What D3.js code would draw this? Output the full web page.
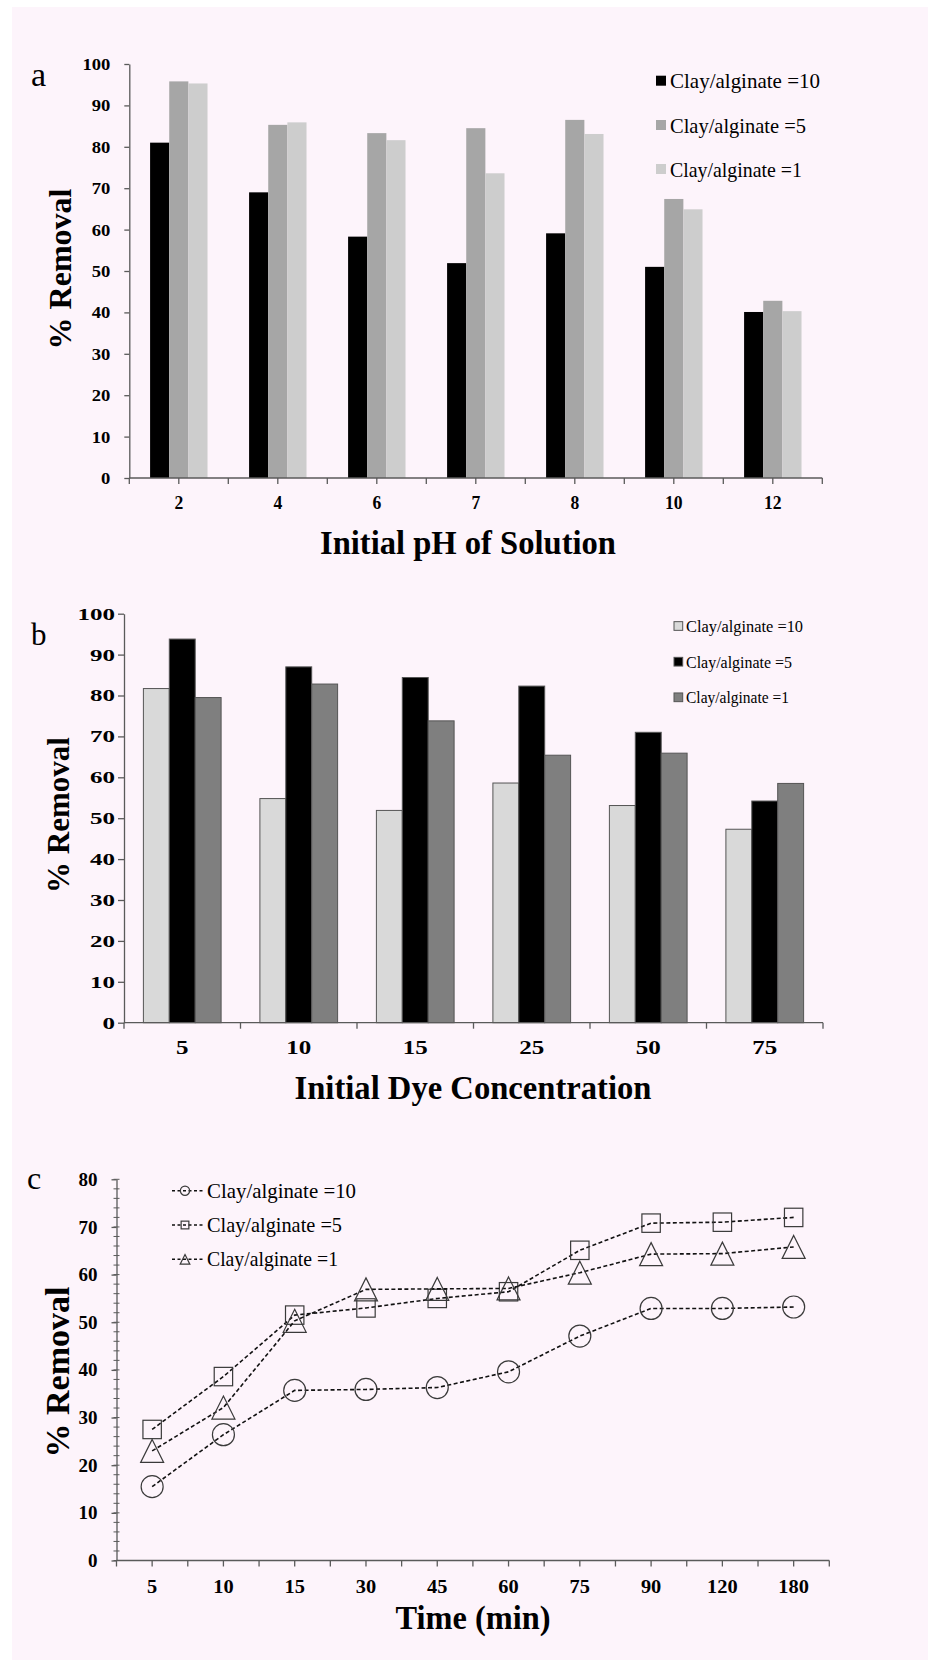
<!DOCTYPE html>
<html>
<head>
<meta charset="utf-8">
<script src="https://cdn.jsdelivr.net/npm/d3@7"></script>
<style>
  html, body { margin: 0; padding: 0; background: #ffffff; }
  svg { display: block; }
  text { font-family: "Liberation Serif", "Times New Roman", serif; fill: #000; }
</style>
</head>
<body>
<svg id="fig" width="928" height="1660" font-family="Liberation Serif, Times New Roman, serif"></svg>
<script>
// ---- data -------------------------------------------------------------
const seriesNames = ["Clay/alginate =10", "Clay/alginate =5", "Clay/alginate =1"];

// (a) effect of initial pH
const phCategories = ["2", "4", "6", "7", "8", "10", "12"];
const phRatio10 = [81.0, 69.0, 58.3, 51.9, 59.1, 51.0, 40.1];
const phRatio5  = [95.8, 85.3, 83.3, 84.5, 86.5, 67.4, 42.8];
const phRatio1  = [95.3, 85.9, 81.6, 73.6, 83.1, 64.9, 40.3];

// (b) effect of initial dye concentration
const dyeCategories = ["5", "10", "15", "25", "50", "75"];
const dyeRatio10 = [81.7, 54.8, 51.9, 58.6, 53.1, 47.3];
const dyeRatio5  = [93.8, 87.0, 84.4, 82.3, 71.0, 54.2];
const dyeRatio1  = [79.5, 82.8, 73.8, 65.4, 65.9, 58.5];

// (c) effect of contact time
const timeCategories = ["5", "10", "15", "30", "45", "60", "75", "90", "120", "180"];
const timeRatio10 = [15.5, 26.4, 35.7, 35.9, 36.3, 39.6, 47.1, 52.9, 52.9, 53.2];
const timeRatio5  = [27.5, 38.6, 51.5, 53.0, 55.0, 56.4, 65.1, 70.8, 71.0, 72.0];
const timeRatio1  = [23.0, 32.1, 50.3, 56.9, 57.0, 57.1, 60.4, 64.3, 64.4, 65.8];

const removalTicks100 = [0, 10, 20, 30, 40, 50, 60, 70, 80, 90, 100];
const removalTicks80  = [0, 10, 20, 30, 40, 50, 60, 70, 80];
const removalMinor80  = d3.range(0, 81, 2);

// ---- figure -----------------------------------------------------------
const svg = d3.select("#fig");
const AXIS = "#5a5a5a";
const SERIF = "Liberation Serif, Times New Roman, serif";

svg.append("rect").attr("x", 12).attr("y", 7)
  .attr("width", 916).attr("height", 1653).attr("fill", "#fdf4fb");

function styleAxis(g) {
  g.selectAll("path, line").attr("stroke", AXIS).attr("stroke-width", 1.3);
}

// set a fixed advance per character on digit labels
function spread(sel, perChar) {
  sel.attr("lengthAdjust", "spacingAndGlyphs")
    .attr("textLength", function () { return this.textContent.length * perChar; });
}

function panelLetter(letter, x, y, size) {
  svg.append("text").attr("x", x).attr("y", y).attr("font-family", SERIF)
    .attr("font-size", size).text(letter);
}

function yTitle(cx, cy, size) {
  svg.append("text")
    .attr("transform", `translate(${cx},${cy}) rotate(-90)`)
    .attr("text-anchor", "middle").attr("dominant-baseline", "central")
    .attr("font-family", SERIF)
    .attr("font-size", size).attr("font-weight", "bold")
    .text("% Removal");
}

function xTitle(label, cx, baseline, width) {
  svg.append("text").attr("x", cx).attr("y", baseline)
    .attr("text-anchor", "middle").attr("font-size", 33)
    .attr("font-family", SERIF).attr("font-weight", "bold")
    .attr("textLength", width).attr("lengthAdjust", "spacingAndGlyphs")
    .text(label);
}

function barPanel(o) {
  const x = d3.scaleBand().domain(o.categories).range([o.x0, o.x1])
    .paddingInner(o.pad).paddingOuter(o.pad / 2);
  const xs = d3.scaleBand().domain([0, 1, 2]).range([0, x.bandwidth()]);
  const y = d3.scaleLinear().domain([0, 100]).range([o.yBottom, o.yTop]);

  const rows = o.categories.map((c, i) => ({ c, v: o.series.map(s => s[i]) }));
  const g = svg.append("g");
  g.selectAll("g.grp").data(rows).join("g")
    .attr("transform", d => `translate(${x(d.c)},0)`)
    .selectAll("rect").data(d => d.v.map((v, k) => ({ v, k }))).join("rect")
    .attr("x", d => xs(d.k)).attr("width", xs.bandwidth())
    .attr("y", d => y(d.v)).attr("height", d => y(0) - y(d.v))
    .attr("fill", d => o.colors[d.k])
    .attr("stroke", o.outline || "none").attr("stroke-width", o.outline ? 1 : 0);

  // y axis
  const ya = svg.append("g").attr("transform", `translate(${o.x0},0)`)
    .call(d3.axisLeft(y).tickValues(removalTicks100).tickSize(o.yTick)
      .tickPadding(o.yPad).tickSizeOuter(0));
  styleAxis(ya);
  ya.selectAll("text").attr("font-size", o.yFont).attr("font-weight", "bold")
    .attr("font-family", SERIF).attr("fill", "#000").call(spread, o.yDigit);

  // x axis: line + tick marks
  const xa = svg.append("g").attr("transform", `translate(0,${o.yBottom})`);
  xa.append("line").attr("x1", o.x0).attr("x2", o.x1);
  const bounds = d3.range(o.categories.length + 1).map(i => o.x0 + i * x.step());
  const tickXs = o.centerTicks
    ? bounds.concat(o.categories.map(c => x(c) + x.bandwidth() / 2))
    : bounds;
  xa.selectAll("line.t").data(tickXs).join("line").attr("class", "t")
    .attr("x1", d => d).attr("x2", d => d).attr("y1", 0).attr("y2", 6);
  styleAxis(xa);
  xa.selectAll("text").data(o.categories).join("text")
    .attr("x", d => x(d) + x.bandwidth() / 2).attr("y", 25)
    .attr("text-anchor", "middle").attr("dominant-baseline", "central")
    .attr("font-family", SERIF)
    .attr("font-size", o.xFont).attr("font-weight", "bold").text(d => d)
    .call(spread, o.xDigit);

  // legend
  const lg = svg.append("g");
  seriesNames.forEach((name, k) => {
    const cy = o.legend.y[k];
    lg.append("rect").attr("x", o.legend.x).attr("y", cy - o.legend.box / 2)
      .attr("width", o.legend.box).attr("height", o.legend.box)
      .attr("fill", o.colors[k]).attr("stroke", o.outline || "none")
      .attr("stroke-width", o.outline ? 1 : 0);
    lg.append("text").attr("x", o.legend.tx).attr("y", cy)
      .attr("dominant-baseline", "central").attr("font-family", SERIF)
      .attr("font-size", o.legend.font)
      .attr("textLength", o.legend.widths[k]).attr("lengthAdjust", "spacingAndGlyphs")
      .text(name);
  });
}

// ---- (a) ---------------------------------------------------------------
barPanel({
  categories: phCategories,
  series: [phRatio10, phRatio5, phRatio1],
  colors: ["#000000", "#a6a6a6", "#cdcdcd"],
  x0: 129.3, x1: 822.3, yTop: 64, yBottom: 478, pad: 0.42,
  yTick: 5, yPad: 14, yFont: 17, yDigit: 9.3, centerTicks: true,
  xFont: 18, xDigit: 8.8,
  legend: { x: 656, box: 10, tx: 670, font: 22, y: [80.7, 125, 169],
            widths: [150, 136, 132] }
});
panelLetter("a", 31, 86, 34);
yTitle(59.5, 269, 32);
xTitle("Initial pH of Solution", 468, 554, 296);

// ---- (b) ---------------------------------------------------------------
barPanel({
  categories: dyeCategories,
  series: [dyeRatio10, dyeRatio5, dyeRatio1],
  colors: ["#d9d9d9", "#000000", "#7f7f7f"],
  outline: "#555555",
  x0: 124, x1: 823, yTop: 613.7, yBottom: 1022.7, pad: 0.333,
  yTick: 6, yPad: 3, yFont: 17, yDigit: 12.5, centerTicks: false,
  xFont: 19, xDigit: 12.5,
  legend: { x: 674, box: 8.7, tx: 686, font: 17.5, y: [626, 661.7, 697.3],
            widths: [117, 106, 103] }
});
panelLetter("b", 31, 645, 31);
yTitle(58, 815, 31);
xTitle("Initial Dye Concentration", 473, 1099, 357);

// ---- (c) ---------------------------------------------------------------
(function () {
  const x0 = 116.5, x1 = 829.3, yB = 1560.5, yT = 1179.3;
  const x = d3.scalePoint().domain(timeCategories).range([x0, x1]).padding(0.5);
  const y = d3.scaleLinear().domain([0, 80]).range([yB, yT]);

  // y axis with minor ticks
  const ya = svg.append("g").attr("transform", `translate(${x0},0)`)
    .call(d3.axisLeft(y).tickValues(removalTicks80).tickSize(5)
      .tickPadding(14).tickSizeOuter(0));
  ya.selectAll("line.minor").data(removalMinor80).join("line").attr("class", "minor")
    .attr("x1", -3).attr("x2", 3).attr("y1", d => y(d)).attr("y2", d => y(d));
  styleAxis(ya);
  ya.selectAll("line.minor").attr("stroke-width", 1);
  ya.selectAll("text").attr("font-size", 19).attr("font-weight", "bold")
    .attr("font-family", SERIF).attr("fill", "#000");

  // x axis
  const xa = svg.append("g").attr("transform", `translate(0,${yB})`);
  xa.append("line").attr("x1", x0).attr("x2", x1);
  const bounds = d3.range(timeCategories.length + 1).map(i => x0 + i * x.step());
  const tickXs = bounds.concat(timeCategories.map(c => x(c)));
  xa.selectAll("line.t").data(tickXs).join("line").attr("class", "t")
    .attr("x1", d => d).attr("x2", d => d).attr("y1", 0).attr("y2", 6);
  styleAxis(xa);
  xa.selectAll("text").data(timeCategories).join("text")
    .attr("x", d => x(d)).attr("y", 26)
    .attr("text-anchor", "middle").attr("dominant-baseline", "central")
    .attr("font-family", SERIF)
    .attr("font-size", 19).attr("font-weight", "bold").text(d => d)
    .call(spread, 10.2);

  const series = [timeRatio10, timeRatio5, timeRatio1];

  function drawMarker(g, k, cx, cy, s) {
    const m = g.append("g").attr("transform", `translate(${cx},${cy})`);
    let el;
    if (k === 0) el = m.append("circle").attr("r", 11 * s);
    else if (k === 1) el = m.append("rect").attr("x", -9.2 * s).attr("y", -9.2 * s)
      .attr("width", 18.4 * s).attr("height", 18.4 * s);
    else el = m.append("path").attr("d",
      `M0,${-11.5 * s}L${11.5 * s},${11.5 * s}L${-11.5 * s},${11.5 * s}Z`);
    el.attr("fill", "none").attr("stroke", "#3a3a3a").attr("stroke-width", 1.2);
  }

  const line = d3.line().x((d, i) => x(timeCategories[i])).y(d => y(d));
  const g = svg.append("g");
  series.forEach((vals, k) => {
    g.append("path").datum(vals).attr("d", line).attr("fill", "none")
      .attr("stroke", "#111").attr("stroke-width", 1.6)
      .attr("stroke-dasharray", "4,2.5");
    vals.forEach((v, i) => drawMarker(g, k, x(timeCategories[i]), y(v), 1));
  });

  // legend
  const legY = [1190.7, 1225, 1259.3];
  const legW = [149, 135, 131];
  const lg = svg.append("g");
  seriesNames.forEach((name, k) => {
    lg.append("line").attr("x1", 172).attr("x2", 205)
      .attr("y1", legY[k]).attr("y2", legY[k])
      .attr("stroke", "#111").attr("stroke-width", 1.4)
      .attr("stroke-dasharray", "3,2.5");
    drawMarker(lg, k, 185, legY[k], 0.42);
    lg.append("text").attr("x", 207).attr("y", legY[k])
      .attr("dominant-baseline", "central").attr("font-family", SERIF)
      .attr("font-size", 21.5)
      .attr("textLength", legW[k]).attr("lengthAdjust", "spacingAndGlyphs")
      .text(name);
  });

  panelLetter("c", 27, 1189, 32);
  yTitle(57.5, 1372, 34);
  xTitle("Time (min)", 473, 1629, 155);
})();
</script>
</body>
</html>
